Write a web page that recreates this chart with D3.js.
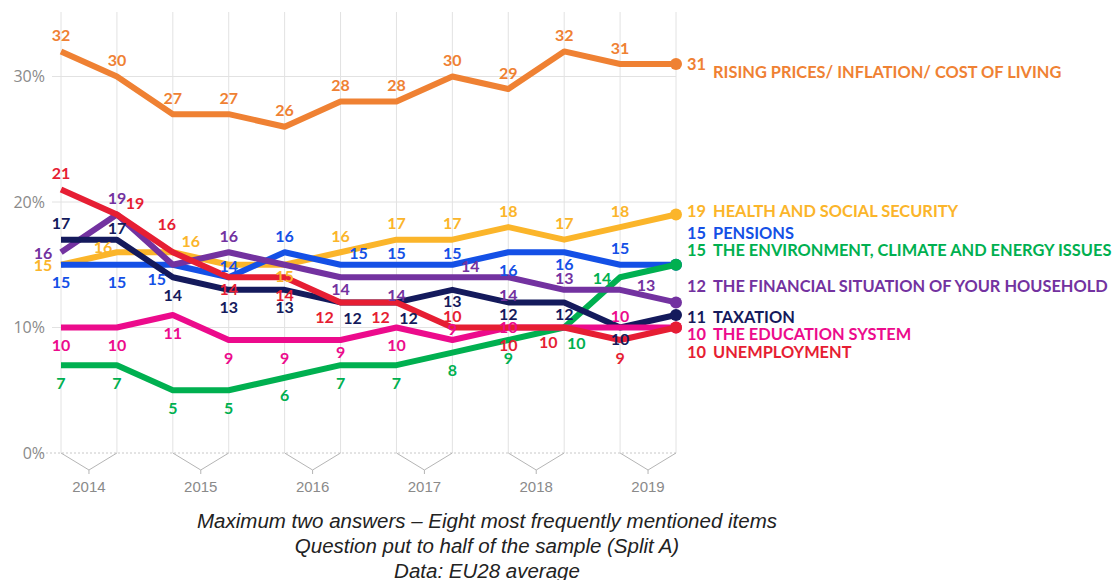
<!DOCTYPE html>
<html>
<head>
<meta charset="utf-8">
<script src="https://cdn.jsdelivr.net/npm/d3@7"></script>
<style>
  body { margin: 0; background: #fff; }
  svg { display: block; }
</style>
</head>
<body>
<div id="chart"></div>
<script>
// survey waves, spring and autumn
var waves = ["SP2014","AU2014","SP2015","AU2015","SP2016","AU2016","SP2017","AU2017","SP2018","AU2018","SP2019","AU2019"]
var years = ["2014","2015","2016","2017","2018","2019"]
var yTicks = [0, 10, 20, 30]

var names = [
  "RISING PRICES/ INFLATION/ COST OF LIVING",
  "HEALTH AND SOCIAL SECURITY",
  "PENSIONS",
  "THE ENVIRONMENT, CLIMATE AND ENERGY ISSUES",
  "THE FINANCIAL SITUATION OF YOUR HOUSEHOLD",
  "TAXATION",
  "THE EDUCATION SYSTEM",
  "UNEMPLOYMENT"
]

var prices      = [32,30,27,27,26,28,28,30,29,32,31,31]
var health      = [15,16,16,15,15,16,17,17,18,17,18,19]
var pensions    = [15,15,15,14,16,15,15,15,16,16,15,15]
var environment = [7,7,5,5,6,7,7,8,9,10,14,15]
var household   = [16,19,15,16,15,14,14,14,14,13,13,12]
var taxation    = [17,17,14,13,13,12,12,13,12,12,10,11]
var education   = [10,10,11,9,9,9,10,9,10,10,10,10]
var unemployment= [21,19,16,14,14,12,12,10,10,10,9,10]

var seriesValues = [prices, health, pensions, environment, household, taxation, education, unemployment]
var colors = ["#ef8133","#fbb52a","#1450e6","#00b050","#7332a0","#141a5c","#ec0b8c","#e61e33"]

// where each value label sits relative to its point
var offs = {
  a: [0,-16], A: [0,-11], b: [0,18], B: [0,12], l: [-18,1], la: [-14,-5],
  ra: [18,-11], r: [26,-4], lb: [-16,15], rb: [12,16], aa: [-6,-28], c: [0,0], n: null
}
var labelPos = [
  ["a","a","a","a","a","a","a","a","a","a","a","n"],
  ["l","la","ra","n","B","a","a","a","a","a","a","n"],
  ["b","b","lb","A","a","ra","A","A","b","B","a","n"],
  ["b","b","b","b","b","b","b","b","b","rb","l","n"],
  ["l","a","n","a","n","B","b","ra","b","A","r","n"],
  ["a","A","b","b","b","rb","rb","B","B","B","B","n"],
  ["b","b","b","b","b","B","b","A","c","n","A","n"],
  ["a","ra","aa","B","b","lb","lb","A","b","lb","b","n"]
]
// legend offsets from each end point
var legendDy = [0, -3, -31, -14, -16, 2, 7, 25]

var W = 1113, H = 580

var svg = d3.select("#chart").append("svg")
  .attr("width", W).attr("height", H)

var x = d3.scalePoint().domain(waves).range([61, 676])
var y = d3.scaleLinear().domain([0, 35]).range([453, 453 - 35 * 12.55])

// vertical grid
svg.append("g").selectAll("line")
  .data(waves).enter().append("line")
  .attr("x1", function(d){ return x(d) }).attr("x2", function(d){ return x(d) })
  .attr("y1", 12).attr("y2", 453)
  .attr("stroke", "#e2e2e2").attr("stroke-width", 1)

// horizontal grid
svg.append("g").selectAll("line")
  .data(yTicks).enter().append("line")
  .attr("x1", function(d){ return d === 0 ? 42 : 52 }).attr("x2", 676)
  .attr("y1", function(d){ return y(d) }).attr("y2", function(d){ return y(d) })
  .attr("stroke", function(d){ return d === 0 ? "#c8c8c8" : "#e2e2e2" })
  .attr("stroke-dasharray", function(d){ return d === 0 ? "2,2" : null })

svg.append("g").selectAll("text")
  .data(yTicks).enter().append("text")
  .attr("x", 45).attr("y", function(d){ return y(d) })
  .attr("dy", "0.35em").attr("text-anchor", "end")
  .attr("font-family", "'Open Sans', sans-serif").attr("font-size", 16)
  .attr("fill", "#8a8a8a")
  .text(function(d){ return d + "%" })

// year chevrons below the axis
years.forEach(function(yr, i){
  var x0 = x(waves[i*2]), x1 = x(waves[i*2+1]), xm = (x0 + x1) / 2
  svg.append("path")
    .attr("d", "M" + x0 + ",453L" + xm + ",470L" + x1 + ",453M" + xm + ",470L" + xm + ",474")
    .attr("fill", "none").attr("stroke", "#b5b5b5").attr("stroke-width", 1)
  svg.append("text")
    .attr("x", xm).attr("y", 487).attr("dy", "0.35em")
    .attr("text-anchor", "middle")
    .attr("font-family", "'Liberation Sans', Arial, sans-serif").attr("font-size", 15)
    .attr("fill", "#8a8a8a")
    .text(yr)
})

var line = d3.line()
  .x(function(d, i){ return x(waves[i]) })
  .y(function(d){ return y(d) })

seriesValues.forEach(function(vals, s){
  svg.append("path")
    .datum(vals)
    .attr("d", line)
    .attr("fill", "none")
    .attr("stroke", colors[s])
    .attr("stroke-width", 6)
    .attr("stroke-linejoin", "round")
  svg.append("circle")
    .attr("cx", x(waves[waves.length-1]))
    .attr("cy", y(vals[vals.length-1]))
    .attr("r", 6)
    .attr("fill", colors[s])
})

var labels = svg.append("g")
  .attr("font-family", "Lato, sans-serif")
  .attr("font-weight", 700)
  .attr("font-size", 16)
  .attr("text-anchor", "middle")

seriesValues.forEach(function(vals, s){
  vals.forEach(function(v, i){
    var o = offs[labelPos[s][i]]
    if (!o) return
    labels.append("text")
      .attr("x", x(waves[i]) + o[0])
      .attr("y", y(v) + o[1])
      .attr("dy", "0.35em")
      .attr("fill", colors[s])
      .text(v)
  })
})

// end labels
var legend = svg.append("g")
  .attr("font-family", "Lato, sans-serif")
  .attr("font-weight", 700)
  .attr("font-size", 16.4)

seriesValues.forEach(function(vals, s){
  var last = vals[vals.length-1]
  var ly = y(last) + legendDy[s]
  legend.append("text")
    .attr("x", 687).attr("y", ly).attr("dy", "0.35em")
    .attr("fill", colors[s])
    .text(last)
  legend.append("text")
    .attr("x", 713).attr("y", s === 0 ? ly + 8 : ly).attr("dy", "0.35em")
    .attr("fill", colors[s])
    .text(names[s])
})

// footnote
var notes = ["Maximum two answers \u2013 Eight most frequently mentioned items",
             "Question put to half of the sample (Split A)",
             "Data: EU28 average"]
svg.append("g").selectAll("text")
  .data(notes).enter().append("text")
  .attr("x", 487).attr("y", function(d, i){ return 521 + i * 25 })
  .attr("dy", "0.35em").attr("text-anchor", "middle")
  .attr("font-family", "'Liberation Sans Narrow', 'Liberation Sans', sans-serif")
  .attr("font-style", "italic").attr("font-size", 20.5)
  .attr("fill", "#222")
  .text(function(d){ return d })
</script>
</body>
</html>
